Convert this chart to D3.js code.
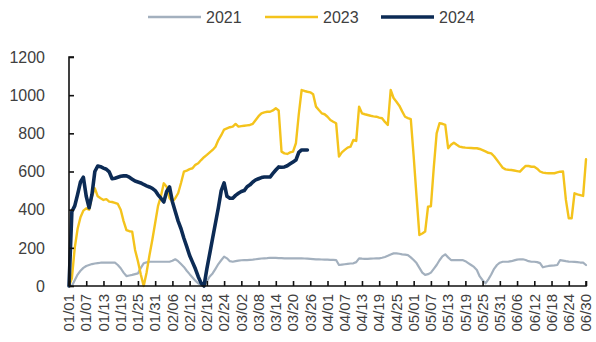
<!DOCTYPE html>
<html>
<head>
<meta charset="utf-8">
<script src="https://cdn.jsdelivr.net/npm/d3@7"></script>
<style>
  html, body { margin: 0; padding: 0; background: #fff; }
  svg { display: block; }
  text { font-family: "Liberation Sans", Arial, sans-serif; fill: #404040; }
</style>
</head>
<body>
<svg id="chart" width="596" height="342"></svg>
<script>
// Daily categories run 01/01 to 06/30 (365-day calendar)
const startDay = new Date(2023, 0, 1);
const endDay = new Date(2023, 5, 30);
const days = d3.timeDay.range(startDay, d3.timeDay.offset(endDay, 1));

const tickLabels = ["01/01","01/07","01/13","01/19","01/25","01/31","02/06","02/12","02/18","02/24",
  "03/02","03/08","03/14","03/20","03/26","04/01","04/07","04/13","04/19","04/25",
  "05/01","05/07","05/13","05/19","05/25","05/31","06/06","06/12","06/18","06/24","06/30"];
const yTicks = [0, 200, 400, 600, 800, 1000, 1200];

const series2021 = [
  0,0,30,60,80,95,105,110,115,118,120,122,122,122,122,122,122,110,93,70,
  52,55,58,62,66,95,119,124,127,127,127,127,127,127,127,127,132,140,130,115,
  100,80,62,45,28,14,3,0,25,50,66,90,115,135,154,145,130,127,130,133,
  135,136,136,137,138,140,142,144,145,146,148,147,147,146,146,145,145,145,145,145,
  145,145,144,143,142,141,140,140,139,138,138,137,137,136,110,112,114,116,118,119,
  125,145,143,142,142,143,144,145,145,148,152,158,165,171,171,169,166,164,162,150,
  136,120,95,70,58,62,70,90,110,135,155,166,150,136,136,136,136,136,130,120,
  110,100,84,50,30,14,35,60,90,110,122,127,127,128,130,134,138,140,140,136,
  130,127,127,125,120,98,102,105,107,108,110,136,133,130,128,127,126,125,123,122,
  110
];

const series2023 = [
  0,40,200,300,360,395,407,400,470,512,470,460,451,455,442,440,436,430,400,340,
  293,287,285,189,130,60,0,70,160,241,330,420,470,538,520,460,442,460,486,540,
  599,605,612,617,635,643,660,675,687,700,713,730,765,790,820,826,832,835,849,835,
  838,840,842,844,850,870,890,905,910,913,913,920,931,920,704,695,692,700,704,748,
  900,1027,1022,1018,1015,1005,940,922,905,900,887,870,861,853,678,700,713,725,730,765,
  760,940,905,900,896,892,889,887,882,879,860,844,1027,985,965,945,915,887,880,874,
  680,470,267,275,285,416,418,620,800,853,850,844,722,740,751,740,730,727,725,724,
  723,722,722,718,712,705,698,695,680,660,640,620,611,609,608,605,602,599,615,629,
  629,625,625,615,600,594,592,591,591,591,595,599,600,451,355,355,486,480,476,472,
  664
];

const series2024 = [
  0,390,420,480,545,570,470,410,480,600,629,625,618,612,598,562,565,570,575,577,
  577,570,560,550,545,540,532,525,519,512,500,478,460,440,495,519,442,390,340,300,
  250,206,160,125,90,49,15,0,90,170,250,330,410,500,540,470,460,460,475,486,
  495,500,520,530,545,556,562,568,571,571,571,590,608,624,622,624,630,640,650,660,
  700,713,713,713
];

const seriesNames = ["2021", "2023", "2024"];
const seriesColors = ["#a3b0be", "#f4c31c", "#0c2b55"];
const seriesWidths = [2.2, 2.4, 3.6];
const seriesValues = [series2021, series2023, series2024];

const svg = d3.select("#chart");
const plotLeft = 69, plotRight = 586, plotTop = 57, plotBottom = 286;

const fmt = d3.timeFormat("%m/%d");
const parseLabel = s => d3.timeParse("%Y/%m/%d")("2023/" + s);

const x = d3.scaleTime().domain([startDay, endDay]).range([plotLeft, plotRight]);
const y = d3.scaleLinear().domain([0, 1200]).range([plotBottom, plotTop]);

// Series lines, drawn so the latest year sits on top
const line = d3.line().x(d => x(d[0])).y(d => y(d[1]));
seriesValues.forEach((vals, k) => {
  const pts = vals.map((v, i) => [days[i], v]);
  svg.append("path")
    .datum(pts)
    .attr("fill", "none")
    .attr("stroke", seriesColors[k])
    .attr("stroke-width", seriesWidths[k])
    .attr("stroke-linejoin", "round")
    .attr("stroke-linecap", "round")
    .attr("d", line);
});

// Y axis with inward ticks
const yAxis = svg.append("g")
  .attr("transform", `translate(${plotLeft},0)`)
  .call(d3.axisRight(y).tickValues(yTicks).tickSize(5).tickFormat(""));
yAxis.select(".domain").attr("stroke", "#111").attr("stroke-width", 1.6).attr("d", `M5,${plotTop}H0V${plotBottom}`);
yAxis.selectAll(".tick line").attr("stroke", "#111").attr("stroke-width", 1.6);

svg.append("g").selectAll("text")
  .data(yTicks)
  .join("text")
  .attr("x", 45)
  .attr("y", d => y(d))
  .attr("dy", "0.36em")
  .attr("text-anchor", "end")
  .attr("font-size", 16)
  .text(d => d);

// X axis with inward ticks every six days
const tickDates = tickLabels.map(parseLabel);
const xAxis = svg.append("g")
  .attr("transform", `translate(0,${plotBottom})`)
  .call(d3.axisTop(x).tickValues(tickDates).tickSize(5).tickFormat(""));
xAxis.select(".domain").attr("stroke", "#111").attr("stroke-width", 1.6).attr("d", `M${plotLeft},0H${plotRight}V-5`);
xAxis.selectAll(".tick line").attr("stroke", "#111").attr("stroke-width", 1.6);

svg.append("g").selectAll("text")
  .data(tickDates)
  .join("text")
  .attr("transform", d => `translate(${x(d)},294) rotate(-90)`)
  .attr("dy", "0.35em")
  .attr("text-anchor", "end")
  .attr("font-size", 15)
  .text(d => fmt(d));

// Legend
const legendX = [148, 265, 381];
const legend = svg.append("g");
seriesNames.forEach((name, k) => {
  legend.append("line")
    .attr("x1", legendX[k]).attr("x2", legendX[k] + 53)
    .attr("y1", 17).attr("y2", 17)
    .attr("stroke", seriesColors[k])
    .attr("stroke-width", k === 2 ? 3.6 : 2.6);
  legend.append("text")
    .attr("x", legendX[k] + 58)
    .attr("y", 17)
    .attr("dy", "0.36em")
    .attr("font-size", 16)
    .text(name);
});
</script>
</body>
</html>
